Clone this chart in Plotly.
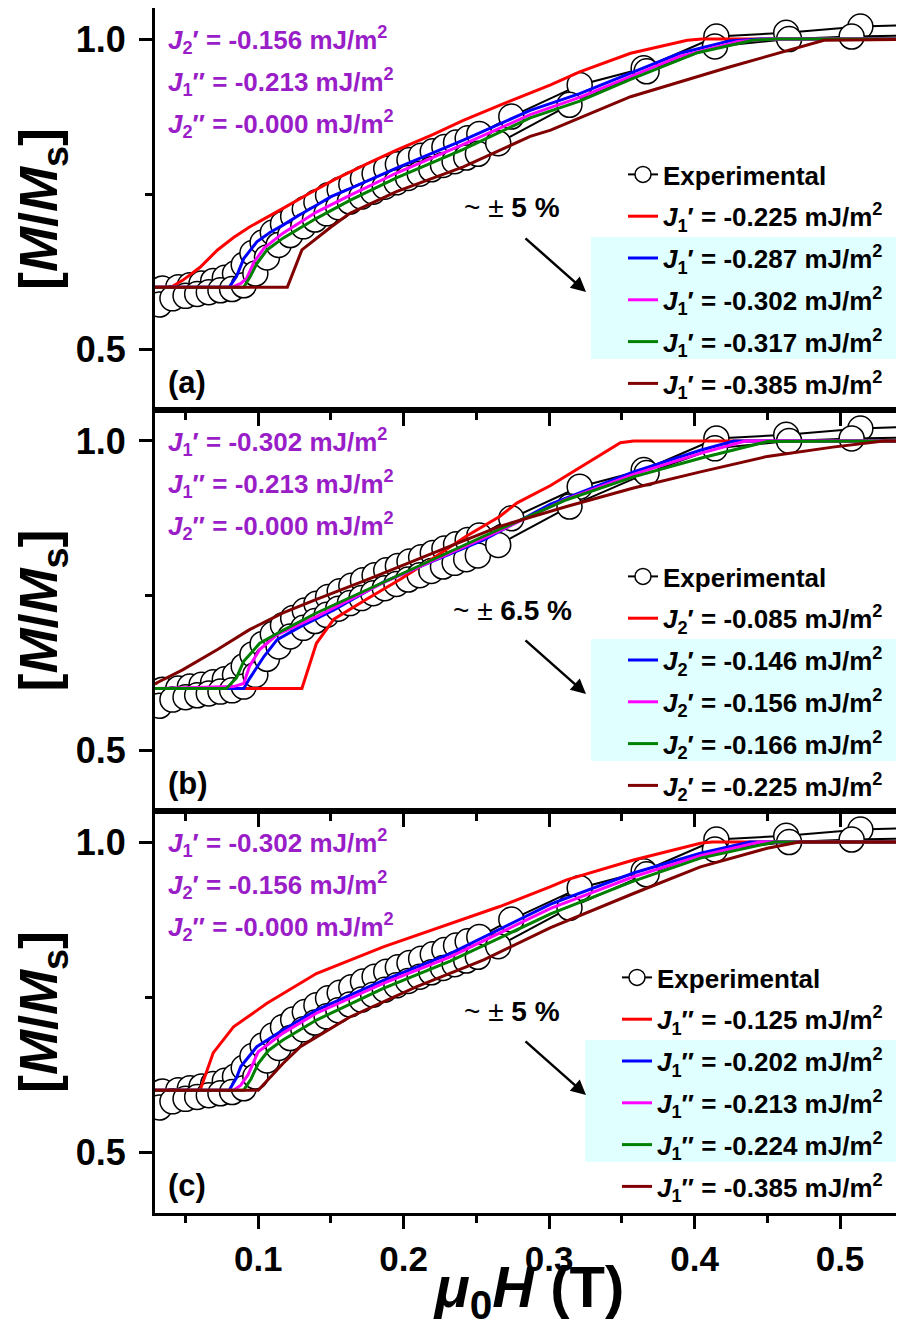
import plotly.graph_objects as go

# ---------------- data ----------------
# Experimental M/Ms, two interleaved sweeps (same in all panels)
exp_upper_x = [0.034, 0.045, 0.053, 0.061, 0.069, 0.077, 0.084, 0.090, 0.096, 0.103, 0.110, 0.117, 0.124,
               0.132, 0.140, 0.148, 0.156, 0.164, 0.172, 0.180, 0.188, 0.196, 0.204, 0.212, 0.220, 0.228,
               0.236, 0.244, 0.252, 0.274, 0.321, 0.365, 0.415, 0.463, 0.514, 0.565]
exp_upper_y = [0.598, 0.600, 0.603, 0.606, 0.610, 0.615, 0.622, 0.636, 0.655, 0.672, 0.688, 0.702, 0.714,
               0.726, 0.737, 0.748, 0.757, 0.766, 0.775, 0.783, 0.791, 0.798, 0.805, 0.812, 0.819, 0.826,
               0.833, 0.840, 0.847, 0.875, 0.926, 0.953, 1.004, 1.010, 1.020, 1.024]
exp_lower_x = [0.032, 0.041, 0.050, 0.058, 0.066, 0.074, 0.082, 0.090, 0.098, 0.106, 0.114, 0.122, 0.131,
               0.139, 0.147, 0.155, 0.163, 0.171, 0.179, 0.187, 0.195, 0.203, 0.211, 0.219, 0.227, 0.235,
               0.243, 0.251, 0.265, 0.314, 0.367, 0.414, 0.465, 0.508, 0.560]
exp_lower_y = [0.572, 0.582, 0.586, 0.589, 0.592, 0.595, 0.597, 0.603, 0.622, 0.648, 0.668, 0.684, 0.698,
               0.709, 0.719, 0.729, 0.738, 0.746, 0.754, 0.762, 0.769, 0.776, 0.783, 0.790, 0.797, 0.803,
               0.809, 0.815, 0.832, 0.894, 0.948, 0.988, 1.000, 1.004, 1.006]

# Panel (a): varying J1'
a_red_x = [0.029, 0.040, 0.048, 0.060, 0.072, 0.083, 0.094, 0.105, 0.117, 0.135, 0.152, 0.175, 0.195, 0.220,
           0.241, 0.270, 0.301, 0.321, 0.356, 0.380, 0.395, 0.405, 0.560]
a_red_y = [0.600, 0.600, 0.611, 0.632, 0.660, 0.680, 0.697, 0.712, 0.727, 0.751, 0.773, 0.799, 0.821, 0.846,
           0.869, 0.897, 0.926, 0.947, 0.977, 0.990, 0.998, 1.000, 1.000]
a_blue_x = [0.029, 0.080, 0.085, 0.090, 0.099, 0.108, 0.117, 0.128, 0.140, 0.150, 0.163, 0.195, 0.241, 0.287,
            0.321, 0.356, 0.390, 0.424, 0.445, 0.560]
a_blue_y = [0.600, 0.600, 0.617, 0.646, 0.673, 0.688, 0.700, 0.716, 0.732, 0.746, 0.759, 0.792, 0.837, 0.885,
            0.912, 0.945, 0.977, 0.997, 1.000, 1.000]
a_mag_x = [0.029, 0.082, 0.088, 0.092, 0.097, 0.104, 0.117, 0.140, 0.163, 0.195, 0.241, 0.287, 0.321, 0.356,
           0.390, 0.430, 0.452, 0.560]
a_mag_y = [0.600, 0.600, 0.606, 0.614, 0.640, 0.663, 0.687, 0.721, 0.748, 0.784, 0.830, 0.878, 0.906, 0.940,
           0.972, 0.996, 1.000, 1.000]
a_green_x = [0.029, 0.090, 0.0945, 0.099, 0.106, 0.117, 0.140, 0.163, 0.195, 0.241, 0.287, 0.321, 0.356, 0.402,
             0.440, 0.455, 0.560]
a_green_y = [0.600, 0.600, 0.617, 0.638, 0.660, 0.679, 0.711, 0.740, 0.776, 0.822, 0.873, 0.900, 0.935, 0.978,
             0.998, 1.000, 1.000]
a_brown_x = [0.029, 0.120, 0.130, 0.140, 0.150, 0.163, 0.195, 0.241, 0.287, 0.301, 0.356, 0.424, 0.470, 0.489, 0.560]
a_brown_y = [0.600, 0.600, 0.660, 0.679, 0.697, 0.719, 0.754, 0.794, 0.843, 0.853, 0.907, 0.955, 0.985, 0.998, 1.000]

# Panel (b): varying J2'
b_red_x = [0.029, 0.130, 0.140, 0.152, 0.175, 0.198, 0.220, 0.243, 0.266, 0.278, 0.301, 0.349, 0.358, 0.560]
b_red_y = [0.600, 0.600, 0.673, 0.712, 0.745, 0.777, 0.810, 0.846, 0.878, 0.900, 0.928, 0.997, 1.000, 1.000]
b_blue_x = [0.029, 0.090, 0.094, 0.104, 0.113, 0.129, 0.152, 0.186, 0.209, 0.255, 0.301, 0.358, 0.404, 0.427, 0.560]
b_blue_y = [0.600, 0.600, 0.616, 0.652, 0.679, 0.700, 0.727, 0.772, 0.795, 0.840, 0.898, 0.950, 0.985, 1.000, 1.000]
b_mag_x = [0.029, 0.083, 0.090, 0.094, 0.101, 0.113, 0.140, 0.186, 0.255, 0.312, 0.358, 0.404, 0.435, 0.560]
b_mag_y = [0.600, 0.603, 0.608, 0.636, 0.663, 0.687, 0.716, 0.771, 0.843, 0.906, 0.946, 0.980, 1.000, 1.000]
b_green_x = [0.029, 0.078, 0.085, 0.090, 0.101, 0.117, 0.140, 0.175, 0.255, 0.312, 0.358, 0.404, 0.450, 0.560]
b_green_y = [0.600, 0.600, 0.617, 0.644, 0.673, 0.694, 0.722, 0.760, 0.846, 0.905, 0.942, 0.972, 0.999, 1.000]
b_brown_x = [0.029, 0.031, 0.048, 0.072, 0.094, 0.117, 0.140, 0.175, 0.232, 0.266, 0.312, 0.358, 0.404, 0.450,
             0.495, 0.530, 0.560]
b_brown_y = [0.607, 0.610, 0.630, 0.663, 0.695, 0.722, 0.744, 0.776, 0.830, 0.862, 0.894, 0.924, 0.950, 0.975,
             0.990, 1.000, 1.000]

# Panel (c): varying J1''
c_red_x = [0.029, 0.060, 0.069, 0.083, 0.106, 0.140, 0.186, 0.232, 0.266, 0.301, 0.312, 0.358, 0.404, 0.412, 0.560]
c_red_y = [0.600, 0.600, 0.660, 0.702, 0.740, 0.788, 0.831, 0.869, 0.896, 0.928, 0.939, 0.971, 0.998, 1.000, 1.000]
c_blue_x = [0.029, 0.080, 0.085, 0.088, 0.099, 0.117, 0.140, 0.186, 0.232, 0.266, 0.301, 0.358, 0.404, 0.438, 0.560]
c_blue_y = [0.600, 0.600, 0.620, 0.638, 0.670, 0.697, 0.729, 0.777, 0.820, 0.860, 0.900, 0.950, 0.982, 1.000, 1.000]
c_mag_x = [0.029, 0.083, 0.088, 0.093, 0.100, 0.117, 0.140, 0.186, 0.232, 0.301, 0.358, 0.404, 0.445, 0.560]
c_mag_y = [0.600, 0.600, 0.608, 0.625, 0.662, 0.692, 0.724, 0.772, 0.815, 0.893, 0.944, 0.978, 1.000, 1.000]
c_green_x = [0.029, 0.090, 0.095, 0.100, 0.107, 0.117, 0.140, 0.186, 0.232, 0.301, 0.358, 0.404, 0.455, 0.560]
c_green_y = [0.600, 0.600, 0.618, 0.643, 0.664, 0.681, 0.713, 0.764, 0.808, 0.884, 0.937, 0.974, 1.000, 1.000]
c_brown_x = [0.029, 0.100, 0.117, 0.129, 0.163, 0.209, 0.255, 0.301, 0.358, 0.404, 0.450, 0.472, 0.560]
c_brown_y = [0.600, 0.600, 0.643, 0.670, 0.718, 0.767, 0.810, 0.862, 0.917, 0.960, 0.990, 1.000, 1.000]

a_labels = ["<i>J</i><sub>1</sub>′ = -0.225 mJ/m<sup>2</sup>", "<i>J</i><sub>1</sub>′ = -0.287 mJ/m<sup>2</sup>",
            "<i>J</i><sub>1</sub>′ = -0.302 mJ/m<sup>2</sup>", "<i>J</i><sub>1</sub>′ = -0.317 mJ/m<sup>2</sup>",
            "<i>J</i><sub>1</sub>′ = -0.385 mJ/m<sup>2</sup>"]
b_labels = ["<i>J</i><sub>2</sub>′ = -0.085 mJ/m<sup>2</sup>", "<i>J</i><sub>2</sub>′ = -0.146 mJ/m<sup>2</sup>",
            "<i>J</i><sub>2</sub>′ = -0.156 mJ/m<sup>2</sup>", "<i>J</i><sub>2</sub>′ = -0.166 mJ/m<sup>2</sup>",
            "<i>J</i><sub>2</sub>′ = -0.225 mJ/m<sup>2</sup>"]
c_labels = ["<i>J</i><sub>1</sub>″ = -0.125 mJ/m<sup>2</sup>", "<i>J</i><sub>1</sub>″ = -0.202 mJ/m<sup>2</sup>",
            "<i>J</i><sub>1</sub>″ = -0.213 mJ/m<sup>2</sup>", "<i>J</i><sub>1</sub>″ = -0.224 mJ/m<sup>2</sup>",
            "<i>J</i><sub>1</sub>″ = -0.385 mJ/m<sup>2</sup>"]
a_fixed = ["<i>J</i><sub>2</sub>′ = -0.156 mJ/m<sup>2</sup>", "<i>J</i><sub>1</sub>″ = -0.213 mJ/m<sup>2</sup>",
           "<i>J</i><sub>2</sub>″ = -0.000 mJ/m<sup>2</sup>"]
b_fixed = ["<i>J</i><sub>1</sub>′ = -0.302 mJ/m<sup>2</sup>", "<i>J</i><sub>1</sub>″ = -0.213 mJ/m<sup>2</sup>",
           "<i>J</i><sub>2</sub>″ = -0.000 mJ/m<sup>2</sup>"]
c_fixed = ["<i>J</i><sub>1</sub>′ = -0.302 mJ/m<sup>2</sup>", "<i>J</i><sub>2</sub>′ = -0.156 mJ/m<sup>2</sup>",
           "<i>J</i><sub>2</sub>″ = -0.000 mJ/m<sup>2</sup>"]
panel_tags = ["(a)", "(b)", "(c)"]
percent_texts = ["~ ± <b>5 %</b>", "~ ± <b>6.5 %</b>", "~ ± <b>5 %</b>"]

x_ticks = [0.1, 0.2, 0.3, 0.4, 0.5]
y_ticks = [0.5, 1.0]

# ---------------- styling ----------------
OFF = 8                               # page body margin around the plot div
W, H = 904 - OFF, 1336 - 2 * OFF      # keep the page from scrolling
ML, MR, MT, MB = 147, 0, 0, 115
PH = H - MT - MB
PW = W - ML - MR
FONT = "Liberation Sans, Arial, sans-serif"
colors = ["#ff0000", "#0000ff", "#ff00ff", "#008000", "#800000"]
purple = "#9a1ec8"
cyan = "#e0ffff"

# panel extents on the page (top, bottom)
panel_px = [(8, 410), (410, 811), (811, 1213)]


def py2paper(py):
    return (H - MB - (py - OFF)) / PH


def px2paper(px):
    return (px - OFF - ML) / PW


fig = go.Figure()

panels = [
    (a_labels, [(a_red_x, a_red_y), (a_blue_x, a_blue_y), (a_mag_x, a_mag_y), (a_green_x, a_green_y),
                (a_brown_x, a_brown_y)]),
    (b_labels, [(b_red_x, b_red_y), (b_blue_x, b_blue_y), (b_mag_x, b_mag_y), (b_green_x, b_green_y),
                (b_brown_x, b_brown_y)]),
    (c_labels, [(c_red_x, c_red_y), (c_blue_x, c_blue_y), (c_mag_x, c_mag_y), (c_green_x, c_green_y),
                (c_brown_x, c_brown_y)]),
]

legend_names = ["legend", "legend2", "legend3"]

for i, (labels, curves) in enumerate(panels):
    xa = "x" if i == 0 else f"x{i+1}"
    ya = "y" if i == 0 else f"y{i+1}"
    lg = legend_names[i]
    for j, (ex, ey) in enumerate([(exp_upper_x, exp_upper_y), (exp_lower_x, exp_lower_y)]):
        fig.add_trace(go.Scatter(
            x=ex, y=ey, mode="lines+markers", xaxis=xa, yaxis=ya,
            name="Experimental", legend=lg, legendgroup=f"exp{i}", showlegend=(j == 0),
            line=dict(color="black", width=2),
            marker=dict(symbol="circle", size=25, color="white", line=dict(color="black", width=1.5)),
        ))
    for k, ((cx, cy), lab) in enumerate(zip(curves, labels)):
        fig.add_trace(go.Scatter(
            x=cx, y=cy, mode="lines", xaxis=xa, yaxis=ya, name=lab, legend=lg,
            legendgroup=f"m{i}{k}", line=dict(color=colors[k], width=3),
        ))

layout = dict(
    width=W, height=H, margin=dict(l=ML, r=MR, t=MT, b=MB, autoexpand=False),
    paper_bgcolor="white", plot_bgcolor="white",
    font=dict(family=FONT, color="black"),
)

annotations = []
shapes = []
for i in range(3):
    top, bot = panel_px[i]
    sfx = "" if i == 0 else str(i + 1)
    dom = [max(0.0, py2paper(bot)), min(1.0, py2paper(top))]
    xaxis = dict(
        domain=[0, 1], range=[0.029, 0.544], anchor="y" + sfx,
        showline=True, linecolor="black", linewidth=3, mirror=True,
        ticks="outside", ticklen=13, tickwidth=3, tickcolor="black",
        tickvals=x_ticks, ticktext=[f"{v:.1f}" for v in x_ticks],
        minor=dict(ticks="outside", ticklen=7, tickwidth=3, tickcolor="black", dtick=0.05, showgrid=False),
        showgrid=False, zeroline=False,
        showticklabels=(i == 2),
        tickfont=dict(family=FONT, size=35, weight="bold"),
    )
    if i == 2:
        xaxis["title"] = dict(text="<i>μ</i><sub>0</sub><i>H</i> (T)",
                              font=dict(family=FONT, size=58, weight="bold"), standoff=24)
    yaxis = dict(
        domain=dom, range=[0.402, 1.05], anchor="x" + sfx,
        showline=True, linecolor="black", linewidth=3, mirror=False,
        ticks="outside", ticklen=13, tickwidth=3, tickcolor="black",
        tickvals=y_ticks, ticktext=[f"{v:.1f}" for v in y_ticks],
        minor=dict(ticks="outside", ticklen=7, tickwidth=3, tickcolor="black", dtick=0.25, showgrid=False),
        showgrid=False, zeroline=False,
        tickfont=dict(family=FONT, size=36, weight="bold"),
        ticklabelstandoff=6,
        title=dict(text="[<i>M</i>/<i>M</i><sub>s</sub>]", font=dict(family=FONT, size=54, weight="bold"),
                   standoff=8),
    )
    layout["xaxis" + sfx] = xaxis
    layout["yaxis" + sfx] = yaxis

    # fixed-parameter texts (purple)
    fixed = [a_fixed, b_fixed, c_fixed][i]
    for r, t in enumerate(fixed):
        annotations.append(dict(
            text=t, xref="paper", yref="paper", x=px2paper(166), y=py2paper(top + 32 + 42 * r),
            xanchor="left", yanchor="middle", showarrow=False,
            font=dict(family=FONT, size=26, color=purple, weight="bold"),
        ))
    # panel tag
    annotations.append(dict(
        text=panel_tags[i], xref="paper", yref="paper", x=px2paper(166), y=py2paper(top + 374),
        xanchor="left", yanchor="middle", showarrow=False,
        font=dict(family=FONT, size=31, color="black", weight="bold"),
    ))
    # percent text
    annotations.append(dict(
        text=percent_texts[i], xref="paper", yref="paper", x=px2paper(512), y=py2paper(top + 200),
        xanchor="center", yanchor="middle", showarrow=False,
        font=dict(family=FONT, size=28, color="black", weight="normal"),
    ))
    # arrow
    annotations.append(dict(
        text="", xref="paper", yref="paper", x=px2paper(586), y=py2paper(top + 284),
        ax=-62, ay=-55, showarrow=True, arrowhead=2, arrowsize=1.2, arrowwidth=2.5, arrowcolor="black",
    ))
    # cyan highlight behind middle legend rows
    shapes.append(dict(
        type="rect", xref="paper", yref="paper", layer="below",
        x0=px2paper(591 if i < 2 else 585), x1=1.0,
        y0=py2paper(top + 351), y1=py2paper(top + 229),
        fillcolor=cyan, line=dict(width=0),
    ))
    # legend
    layout[legend_names[i]] = dict(
        x=px2paper(623 if i < 2 else 617), y=py2paper(top + 143),
        xanchor="left", yanchor="top",
        bgcolor="rgba(0,0,0,0)", borderwidth=0,
        font=dict(family=FONT, size=26, color="black", weight="bold"),
        traceorder="grouped", tracegroupgap=5, itemsizing="trace",
    )

layout["annotations"] = annotations
layout["shapes"] = shapes
layout["showlegend"] = True
fig.update_layout(**layout)

fig.write_html("out.html")
